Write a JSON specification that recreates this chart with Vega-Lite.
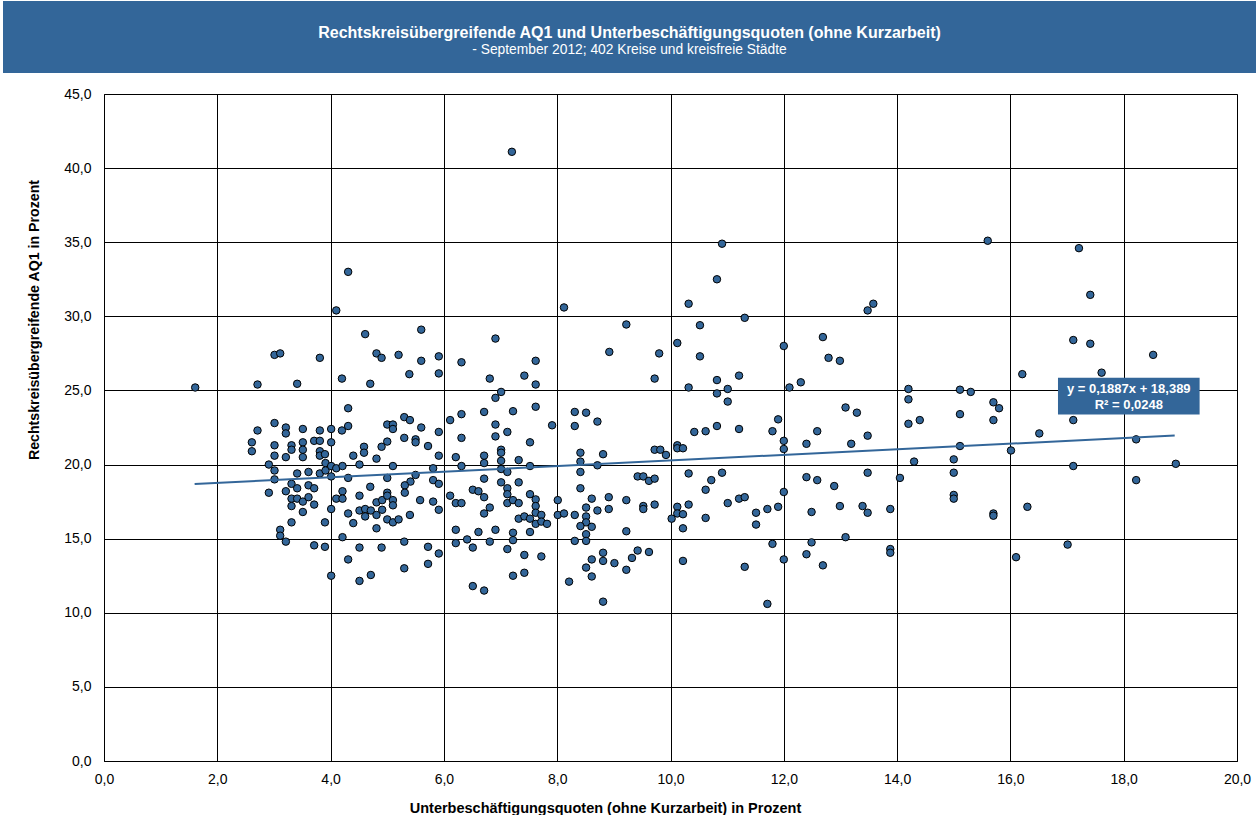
{
  "$schema": "https://vega.github.io/schema/vega-lite/v6.json",
  "padding": {"left": 3, "top": 1, "right": 0, "bottom": 0},
  "background": "white",
  "config": {"font": "Liberation Sans", "view": {"stroke": null}},
  "datasets": {
    "points": [
      {"quote": 4.31, "aq1": 33.0}, {"quote": 4.10, "aq1": 30.4}, {"quote": 4.61, "aq1": 28.8}, {"quote": 3.01, "aq1": 27.4},
      {"quote": 3.11, "aq1": 27.5}, {"quote": 3.81, "aq1": 27.2}, {"quote": 4.81, "aq1": 27.5}, {"quote": 4.90, "aq1": 27.2},
      {"quote": 5.20, "aq1": 27.4}, {"quote": 5.60, "aq1": 29.1}, {"quote": 5.60, "aq1": 27.0}, {"quote": 5.39, "aq1": 26.1},
      {"quote": 1.61, "aq1": 25.2}, {"quote": 2.71, "aq1": 25.4}, {"quote": 3.41, "aq1": 25.45}, {"quote": 4.20, "aq1": 25.8},
      {"quote": 4.70, "aq1": 25.45}, {"quote": 4.31, "aq1": 23.8}, {"quote": 3.01, "aq1": 22.8}, {"quote": 3.21, "aq1": 22.5},
      {"quote": 3.21, "aq1": 22.1}, {"quote": 3.51, "aq1": 22.4}, {"quote": 3.81, "aq1": 22.3}, {"quote": 4.01, "aq1": 22.4},
      {"quote": 4.20, "aq1": 22.3}, {"quote": 4.31, "aq1": 22.6}, {"quote": 2.71, "aq1": 22.3}, {"quote": 2.61, "aq1": 21.5},
      {"quote": 2.61, "aq1": 20.9}, {"quote": 3.01, "aq1": 21.3}, {"quote": 3.31, "aq1": 21.3}, {"quote": 3.31, "aq1": 21.0},
      {"quote": 3.51, "aq1": 21.5}, {"quote": 3.51, "aq1": 21.0}, {"quote": 3.71, "aq1": 21.6}, {"quote": 3.81, "aq1": 21.6},
      {"quote": 4.01, "aq1": 21.5}, {"quote": 3.81, "aq1": 20.9}, {"quote": 3.81, "aq1": 20.6}, {"quote": 3.01, "aq1": 20.6},
      {"quote": 3.21, "aq1": 20.5}, {"quote": 3.51, "aq1": 20.5}, {"quote": 3.90, "aq1": 20.7}, {"quote": 4.59, "aq1": 21.2},
      {"quote": 4.59, "aq1": 20.8}, {"quote": 4.40, "aq1": 20.6}, {"quote": 4.81, "aq1": 20.4}, {"quote": 4.90, "aq1": 21.2},
      {"quote": 5.00, "aq1": 21.55}, {"quote": 5.00, "aq1": 22.7}, {"quote": 5.10, "aq1": 22.7}, {"quote": 5.10, "aq1": 22.4},
      {"quote": 5.30, "aq1": 23.2}, {"quote": 5.40, "aq1": 23.0}, {"quote": 5.30, "aq1": 21.8}, {"quote": 5.50, "aq1": 21.7},
      {"quote": 5.50, "aq1": 21.5}, {"quote": 5.60, "aq1": 22.5},
      {"quote": 2.91, "aq1": 20.0}, {"quote": 3.01, "aq1": 19.6}, {"quote": 3.01, "aq1": 19.0}, {"quote": 3.41, "aq1": 19.4},
      {"quote": 3.61, "aq1": 19.5}, {"quote": 3.81, "aq1": 19.4}, {"quote": 3.91, "aq1": 20.1}, {"quote": 3.91, "aq1": 19.6},
      {"quote": 4.01, "aq1": 19.9}, {"quote": 4.10, "aq1": 19.75}, {"quote": 4.21, "aq1": 19.9}, {"quote": 4.51, "aq1": 20.0},
      {"quote": 5.10, "aq1": 19.9}, {"quote": 4.01, "aq1": 19.2}, {"quote": 4.31, "aq1": 19.1}, {"quote": 5.00, "aq1": 19.1},
      {"quote": 5.50, "aq1": 19.3}, {"quote": 5.41, "aq1": 18.85}, {"quote": 5.31, "aq1": 18.6}, {"quote": 5.31, "aq1": 18.1},
      {"quote": 3.31, "aq1": 18.7}, {"quote": 3.61, "aq1": 18.6}, {"quote": 3.71, "aq1": 18.4}, {"quote": 3.41, "aq1": 18.4},
      {"quote": 3.21, "aq1": 18.2}, {"quote": 2.91, "aq1": 18.1}, {"quote": 4.21, "aq1": 18.2}, {"quote": 4.70, "aq1": 18.5},
      {"quote": 3.31, "aq1": 17.7}, {"quote": 3.41, "aq1": 17.7}, {"quote": 3.51, "aq1": 17.5}, {"quote": 3.61, "aq1": 17.8},
      {"quote": 3.71, "aq1": 17.3}, {"quote": 3.31, "aq1": 17.2}, {"quote": 4.10, "aq1": 17.7}, {"quote": 4.21, "aq1": 17.7},
      {"quote": 4.51, "aq1": 17.9}, {"quote": 4.81, "aq1": 17.45}, {"quote": 4.91, "aq1": 17.6}, {"quote": 5.00, "aq1": 18.1},
      {"quote": 5.00, "aq1": 17.9}, {"quote": 5.10, "aq1": 17.6}, {"quote": 5.10, "aq1": 17.25}, {"quote": 5.58, "aq1": 17.6},
      {"quote": 4.01, "aq1": 17.0}, {"quote": 4.51, "aq1": 16.9}, {"quote": 4.61, "aq1": 17.0}, {"quote": 4.71, "aq1": 16.9},
      {"quote": 4.61, "aq1": 16.5}, {"quote": 4.81, "aq1": 16.6}, {"quote": 4.91, "aq1": 16.95}, {"quote": 4.31, "aq1": 16.7},
      {"quote": 3.51, "aq1": 16.8}, {"quote": 3.31, "aq1": 16.1}, {"quote": 3.90, "aq1": 16.1}, {"quote": 4.40, "aq1": 16.05},
      {"quote": 5.00, "aq1": 16.3}, {"quote": 5.10, "aq1": 16.1}, {"quote": 5.20, "aq1": 16.3}, {"quote": 5.40, "aq1": 16.6},
      {"quote": 4.81, "aq1": 15.7}, {"quote": 3.11, "aq1": 15.6}, {"quote": 3.11, "aq1": 15.2}, {"quote": 3.21, "aq1": 14.8},
      {"quote": 4.21, "aq1": 15.1}, {"quote": 3.71, "aq1": 14.55}, {"quote": 3.90, "aq1": 14.45}, {"quote": 4.51, "aq1": 14.4},
      {"quote": 4.90, "aq1": 14.4}, {"quote": 5.30, "aq1": 14.8}, {"quote": 4.31, "aq1": 13.6}, {"quote": 5.30, "aq1": 13.0},
      {"quote": 4.01, "aq1": 12.5}, {"quote": 4.51, "aq1": 12.15}, {"quote": 4.71, "aq1": 12.55},
      {"quote": 5.91, "aq1": 27.3}, {"quote": 5.91, "aq1": 26.15}, {"quote": 6.31, "aq1": 26.9}, {"quote": 6.91, "aq1": 28.5},
      {"quote": 6.81, "aq1": 25.8}, {"quote": 7.01, "aq1": 24.9}, {"quote": 6.91, "aq1": 24.5}, {"quote": 7.42, "aq1": 26.0},
      {"quote": 7.62, "aq1": 27.0}, {"quote": 7.62, "aq1": 25.4}, {"quote": 8.12, "aq1": 30.6}, {"quote": 9.22, "aq1": 29.45},
      {"quote": 8.92, "aq1": 27.6}, {"quote": 9.80, "aq1": 27.5}, {"quote": 9.72, "aq1": 25.8}, {"quote": 5.91, "aq1": 22.2},
      {"quote": 5.72, "aq1": 21.25}, {"quote": 5.91, "aq1": 20.6}, {"quote": 6.11, "aq1": 23.0}, {"quote": 6.31, "aq1": 23.4},
      {"quote": 6.71, "aq1": 23.55}, {"quote": 7.22, "aq1": 23.6}, {"quote": 7.62, "aq1": 23.9}, {"quote": 6.91, "aq1": 22.7},
      {"quote": 7.12, "aq1": 22.2}, {"quote": 6.91, "aq1": 21.9}, {"quote": 6.31, "aq1": 21.8}, {"quote": 7.52, "aq1": 21.5},
      {"quote": 7.91, "aq1": 22.65}, {"quote": 6.21, "aq1": 20.5}, {"quote": 6.71, "aq1": 20.6}, {"quote": 7.01, "aq1": 21.0},
      {"quote": 7.01, "aq1": 20.8}, {"quote": 8.31, "aq1": 23.55}, {"quote": 8.51, "aq1": 23.5}, {"quote": 8.31, "aq1": 22.6},
      {"quote": 8.71, "aq1": 22.9}, {"quote": 8.41, "aq1": 20.8}, {"quote": 8.81, "aq1": 20.7}, {"quote": 9.72, "aq1": 21.0},
      {"quote": 9.82, "aq1": 21.0}, {"quote": 6.71, "aq1": 20.1}, {"quote": 7.01, "aq1": 20.25}, {"quote": 7.32, "aq1": 20.3},
      {"quote": 6.31, "aq1": 19.9}, {"quote": 5.81, "aq1": 19.75}, {"quote": 7.52, "aq1": 19.9}, {"quote": 8.41, "aq1": 20.2},
      {"quote": 8.71, "aq1": 19.95},
      {"quote": 7.01, "aq1": 19.7}, {"quote": 7.12, "aq1": 19.5}, {"quote": 8.41, "aq1": 19.5}, {"quote": 5.81, "aq1": 18.95},
      {"quote": 5.91, "aq1": 18.7}, {"quote": 5.81, "aq1": 17.5}, {"quote": 5.91, "aq1": 16.95}, {"quote": 6.11, "aq1": 17.9},
      {"quote": 6.21, "aq1": 17.4}, {"quote": 6.31, "aq1": 17.4}, {"quote": 6.51, "aq1": 18.3}, {"quote": 6.61, "aq1": 18.2},
      {"quote": 6.71, "aq1": 17.8}, {"quote": 6.71, "aq1": 19.05}, {"quote": 6.81, "aq1": 17.1}, {"quote": 6.71, "aq1": 16.7},
      {"quote": 7.01, "aq1": 18.8}, {"quote": 7.12, "aq1": 18.4}, {"quote": 7.12, "aq1": 18.0}, {"quote": 7.32, "aq1": 18.8},
      {"quote": 7.12, "aq1": 17.4}, {"quote": 7.22, "aq1": 17.6}, {"quote": 7.32, "aq1": 17.4}, {"quote": 7.52, "aq1": 18.0},
      {"quote": 7.62, "aq1": 17.65}, {"quote": 7.62, "aq1": 17.2}, {"quote": 7.62, "aq1": 16.75}, {"quote": 7.72, "aq1": 16.6},
      {"quote": 7.32, "aq1": 16.35}, {"quote": 7.42, "aq1": 16.5}, {"quote": 7.52, "aq1": 16.35}, {"quote": 7.62, "aq1": 16.0},
      {"quote": 7.72, "aq1": 16.15}, {"quote": 7.82, "aq1": 16.0}, {"quote": 6.21, "aq1": 15.6}, {"quote": 6.61, "aq1": 15.45},
      {"quote": 6.91, "aq1": 15.6}, {"quote": 7.22, "aq1": 15.4}, {"quote": 7.22, "aq1": 14.9}, {"quote": 7.52, "aq1": 15.45},
      {"quote": 6.21, "aq1": 14.7}, {"quote": 6.41, "aq1": 14.95}, {"quote": 6.51, "aq1": 14.4}, {"quote": 6.81, "aq1": 14.8},
      {"quote": 7.12, "aq1": 14.3}, {"quote": 5.72, "aq1": 14.45}, {"quote": 5.91, "aq1": 14.0}, {"quote": 5.72, "aq1": 13.3},
      {"quote": 7.42, "aq1": 13.9}, {"quote": 7.72, "aq1": 13.8}, {"quote": 7.22, "aq1": 12.5}, {"quote": 7.42, "aq1": 12.7},
      {"quote": 6.51, "aq1": 11.8}, {"quote": 6.71, "aq1": 11.5}, {"quote": 8.01, "aq1": 17.6}, {"quote": 8.01, "aq1": 16.6},
      {"quote": 8.12, "aq1": 16.7}, {"quote": 8.31, "aq1": 16.6}, {"quote": 8.41, "aq1": 18.4}, {"quote": 8.51, "aq1": 17.1},
      {"quote": 8.61, "aq1": 17.7}, {"quote": 8.71, "aq1": 16.9}, {"quote": 8.91, "aq1": 17.8}, {"quote": 8.91, "aq1": 17.0},
      {"quote": 9.22, "aq1": 17.6}, {"quote": 8.51, "aq1": 16.5}, {"quote": 8.51, "aq1": 16.1}, {"quote": 8.41, "aq1": 15.85},
      {"quote": 8.61, "aq1": 15.8}, {"quote": 8.51, "aq1": 15.3}, {"quote": 8.31, "aq1": 14.85}, {"quote": 8.51, "aq1": 14.85},
      {"quote": 9.22, "aq1": 15.5}, {"quote": 8.81, "aq1": 14.05}, {"quote": 8.81, "aq1": 13.5}, {"quote": 8.61, "aq1": 13.6},
      {"quote": 8.51, "aq1": 13.05}, {"quote": 8.61, "aq1": 12.45}, {"quote": 8.21, "aq1": 12.1}, {"quote": 9.01, "aq1": 13.35},
      {"quote": 9.22, "aq1": 12.9}, {"quote": 9.32, "aq1": 13.7}, {"quote": 9.42, "aq1": 14.2}, {"quote": 9.62, "aq1": 14.1},
      {"quote": 8.81, "aq1": 10.75}, {"quote": 9.42, "aq1": 19.2}, {"quote": 9.52, "aq1": 19.2}, {"quote": 9.62, "aq1": 18.9},
      {"quote": 9.72, "aq1": 19.05}, {"quote": 9.52, "aq1": 17.2}, {"quote": 9.52, "aq1": 17.0}, {"quote": 9.72, "aq1": 17.3},
      {"quote": 10.91, "aq1": 34.9}, {"quote": 10.82, "aq1": 32.5}, {"quote": 10.32, "aq1": 30.85}, {"quote": 11.31, "aq1": 29.9},
      {"quote": 10.52, "aq1": 29.4}, {"quote": 10.12, "aq1": 28.2}, {"quote": 10.52, "aq1": 27.3}, {"quote": 10.32, "aq1": 25.2},
      {"quote": 10.82, "aq1": 25.7}, {"quote": 10.82, "aq1": 24.8}, {"quote": 11.01, "aq1": 25.1}, {"quote": 11.01, "aq1": 24.25},
      {"quote": 11.21, "aq1": 26.0}, {"quote": 12.00, "aq1": 28.0}, {"quote": 12.10, "aq1": 25.2}, {"quote": 12.30, "aq1": 25.55},
      {"quote": 12.69, "aq1": 28.6}, {"quote": 12.79, "aq1": 27.2}, {"quote": 12.99, "aq1": 27.0}, {"quote": 13.48, "aq1": 30.4},
      {"quote": 13.58, "aq1": 30.85}, {"quote": 13.09, "aq1": 23.85}, {"quote": 13.29, "aq1": 23.5}, {"quote": 11.90, "aq1": 23.05},
      {"quote": 11.80, "aq1": 22.25}, {"quote": 12.00, "aq1": 21.6}, {"quote": 12.00, "aq1": 21.05}, {"quote": 12.40, "aq1": 21.4},
      {"quote": 12.59, "aq1": 22.25}, {"quote": 13.19, "aq1": 21.4}, {"quote": 13.48, "aq1": 21.95}, {"quote": 10.42, "aq1": 22.2},
      {"quote": 10.62, "aq1": 22.25}, {"quote": 10.82, "aq1": 22.6}, {"quote": 11.21, "aq1": 22.4}, {"quote": 10.12, "aq1": 21.3},
      {"quote": 10.12, "aq1": 21.1}, {"quote": 10.22, "aq1": 21.1}, {"quote": 9.92, "aq1": 20.65},
      {"quote": 10.32, "aq1": 19.4}, {"quote": 10.72, "aq1": 18.95}, {"quote": 10.91, "aq1": 19.45}, {"quote": 10.62, "aq1": 18.3},
      {"quote": 10.12, "aq1": 17.15}, {"quote": 10.12, "aq1": 16.7}, {"quote": 10.22, "aq1": 16.65}, {"quote": 10.32, "aq1": 17.3},
      {"quote": 10.02, "aq1": 16.35}, {"quote": 10.22, "aq1": 15.7}, {"quote": 10.62, "aq1": 16.4}, {"quote": 11.01, "aq1": 17.4},
      {"quote": 11.21, "aq1": 17.7}, {"quote": 11.31, "aq1": 17.8}, {"quote": 11.51, "aq1": 16.75}, {"quote": 11.51, "aq1": 15.95},
      {"quote": 11.71, "aq1": 17.0}, {"quote": 11.90, "aq1": 17.15}, {"quote": 12.00, "aq1": 18.15}, {"quote": 10.22, "aq1": 13.5},
      {"quote": 11.31, "aq1": 13.1}, {"quote": 11.80, "aq1": 14.65}, {"quote": 12.00, "aq1": 13.6}, {"quote": 11.71, "aq1": 10.6},
      {"quote": 12.40, "aq1": 19.15}, {"quote": 12.59, "aq1": 18.95}, {"quote": 12.89, "aq1": 18.55}, {"quote": 13.48, "aq1": 19.45},
      {"quote": 12.49, "aq1": 16.8}, {"quote": 12.99, "aq1": 17.2}, {"quote": 13.39, "aq1": 17.2}, {"quote": 13.48, "aq1": 16.75},
      {"quote": 13.88, "aq1": 17.0}, {"quote": 12.49, "aq1": 14.75}, {"quote": 12.40, "aq1": 13.95}, {"quote": 12.69, "aq1": 13.2},
      {"quote": 13.09, "aq1": 15.1}, {"quote": 13.88, "aq1": 14.3}, {"quote": 13.88, "aq1": 14.05}, {"quote": 14.05, "aq1": 19.1},
      {"quote": 15.60, "aq1": 35.1}, {"quote": 17.21, "aq1": 34.6}, {"quote": 17.41, "aq1": 31.45}, {"quote": 17.11, "aq1": 28.4},
      {"quote": 17.41, "aq1": 28.15}, {"quote": 18.52, "aq1": 27.4}, {"quote": 16.21, "aq1": 26.1}, {"quote": 17.61, "aq1": 26.2},
      {"quote": 14.20, "aq1": 25.1}, {"quote": 14.20, "aq1": 24.4}, {"quote": 15.11, "aq1": 25.05}, {"quote": 15.30, "aq1": 24.9},
      {"quote": 15.70, "aq1": 24.2}, {"quote": 15.80, "aq1": 23.8}, {"quote": 14.20, "aq1": 22.75}, {"quote": 14.40, "aq1": 23.0},
      {"quote": 15.11, "aq1": 23.4}, {"quote": 15.70, "aq1": 23.0}, {"quote": 17.11, "aq1": 23.0}, {"quote": 16.51, "aq1": 22.1},
      {"quote": 18.22, "aq1": 21.7}, {"quote": 15.11, "aq1": 21.25}, {"quote": 16.01, "aq1": 20.95}, {"quote": 14.30, "aq1": 20.2},
      {"quote": 15.00, "aq1": 20.35}, {"quote": 17.11, "aq1": 19.9}, {"quote": 18.92, "aq1": 20.05},
      {"quote": 15.00, "aq1": 19.45}, {"quote": 18.22, "aq1": 18.95}, {"quote": 15.00, "aq1": 17.95}, {"quote": 15.00, "aq1": 17.7},
      {"quote": 15.70, "aq1": 16.7}, {"quote": 15.70, "aq1": 16.55}, {"quote": 16.30, "aq1": 17.15}, {"quote": 17.01, "aq1": 14.6},
      {"quote": 16.10, "aq1": 13.75}, {"quote": 7.20, "aq1": 41.1}
    ]
  },
  "spacing": 13,
  "vconcat": [
    {
      "width": 1253,
      "height": 72,
      "view": {"fill": "#336699", "stroke": null},
      "data": {"values": [{"title": "Rechtskreisübergreifende  AQ1 und Unterbeschäftigungsquoten  (ohne Kurzarbeit)", "subtitle": "- September 2012; 402 Kreise und kreisfreie Städte"}]},
      "layer": [
        {"mark": {"type": "text", "color": "white", "fontWeight": "bold", "fontSize": 16, "dy": -4}, "encoding": {"text": {"field": "title"}}},
        {"mark": {"type": "text", "color": "white", "fontSize": 13.8, "dy": 13}, "encoding": {"text": {"field": "subtitle"}}}
      ]
    },
    {
      "spacing": -4,
      "hconcat": [
        {
          "width": 64,
          "height": 452,
          "view": {"stroke": null},
          "data": {"values": [{"t": "Rechtskreisübergreifende AQ1 in Prozent"}]},
          "mark": {"type": "text", "angle": 270, "fontWeight": "bold", "fontSize": 14.2, "color": "black"},
          "encoding": {"text": {"field": "t"}}
        },
        {
          "width": 1133,
          "height": 667,
          "view": {"stroke": "#808080", "strokeWidth": 1},
          "layer": [
            {
              "data": {"name": "points"},
              "mark": {"type": "circle", "fill": "#336699", "stroke": "black", "strokeWidth": 1, "size": 56, "opacity": 1},
              "encoding": {
                "x": {
                  "field": "quote", "type": "quantitative",
                  "scale": {"domain": [0, 20], "nice": false, "zero": false},
                  "axis": {
                    "values": [0, 2, 4, 6, 8, 10, 12, 14, 16, 18, 20],
                    "labelExpr": "replace(format(datum.value, '.1f'), '.', ',')",
                    "title": "Unterbeschäftigungsquoten (ohne Kurzarbeit) in Prozent",
                    "grid": true, "gridColor": "#000", "gridWidth": 1, "gridOpacity": 1,
                    "ticks": false, "domainColor": "#000", "domainWidth": 1,
                    "labelFontSize": 14, "labelColor": "#000", "labelPadding": 11, "labelFlush": false, "labelOverlap": false,
                    "titleFontSize": 14.5, "titleFontWeight": "bold", "titleColor": "#000", "titleX": 501, "titlePadding": 15
                  }
                },
                "y": {
                  "field": "aq1", "type": "quantitative",
                  "scale": {"domain": [0, 45], "nice": false},
                  "axis": {
                    "values": [0, 5, 10, 15, 20, 25, 30, 35, 40, 45],
                    "labelExpr": "replace(format(datum.value, '.1f'), '.', ',')",
                    "title": null,
                    "grid": true, "gridColor": "#000", "gridWidth": 1, "gridOpacity": 1,
                    "ticks": false, "domainColor": "#000", "domainWidth": 1,
                    "labelFontSize": 14, "labelColor": "#000", "labelPadding": 13, "labelOverlap": false
                  }
                }
              }
            },
            {
              "data": {"values": [{"quote": 1.6, "aq1": 18.691}, {"quote": 18.9, "aq1": 21.955}]},
              "mark": {"type": "line", "color": "#336699", "strokeWidth": 2},
              "encoding": {
                "x": {"field": "quote", "type": "quantitative"},
                "y": {"field": "aq1", "type": "quantitative"}
              }
            },
            {
              "data": {"values": [{"l1": "y = 0,1887x  + 18,389", "l2": "R² = 0,0248"}]},
              "layer": [
                {
                  "mark": {"type": "rect", "color": "#336699"},
                  "encoding": {"x": {"datum": 16.84}, "x2": {"datum": 19.34}, "y": {"datum": 25.85}, "y2": {"datum": 23.38}}
                },
                {
                  "mark": {"type": "text", "color": "white", "fontWeight": "bold", "fontSize": 13},
                  "encoding": {"x": {"datum": 18.09}, "y": {"datum": 25.07}, "text": {"field": "l1"}}
                },
                {
                  "mark": {"type": "text", "color": "white", "fontWeight": "bold", "fontSize": 13},
                  "encoding": {"x": {"datum": 18.09}, "y": {"datum": 24.03}, "text": {"field": "l2"}}
                }
              ]
            }
          ]
        }
      ]
    }
  ]
}
